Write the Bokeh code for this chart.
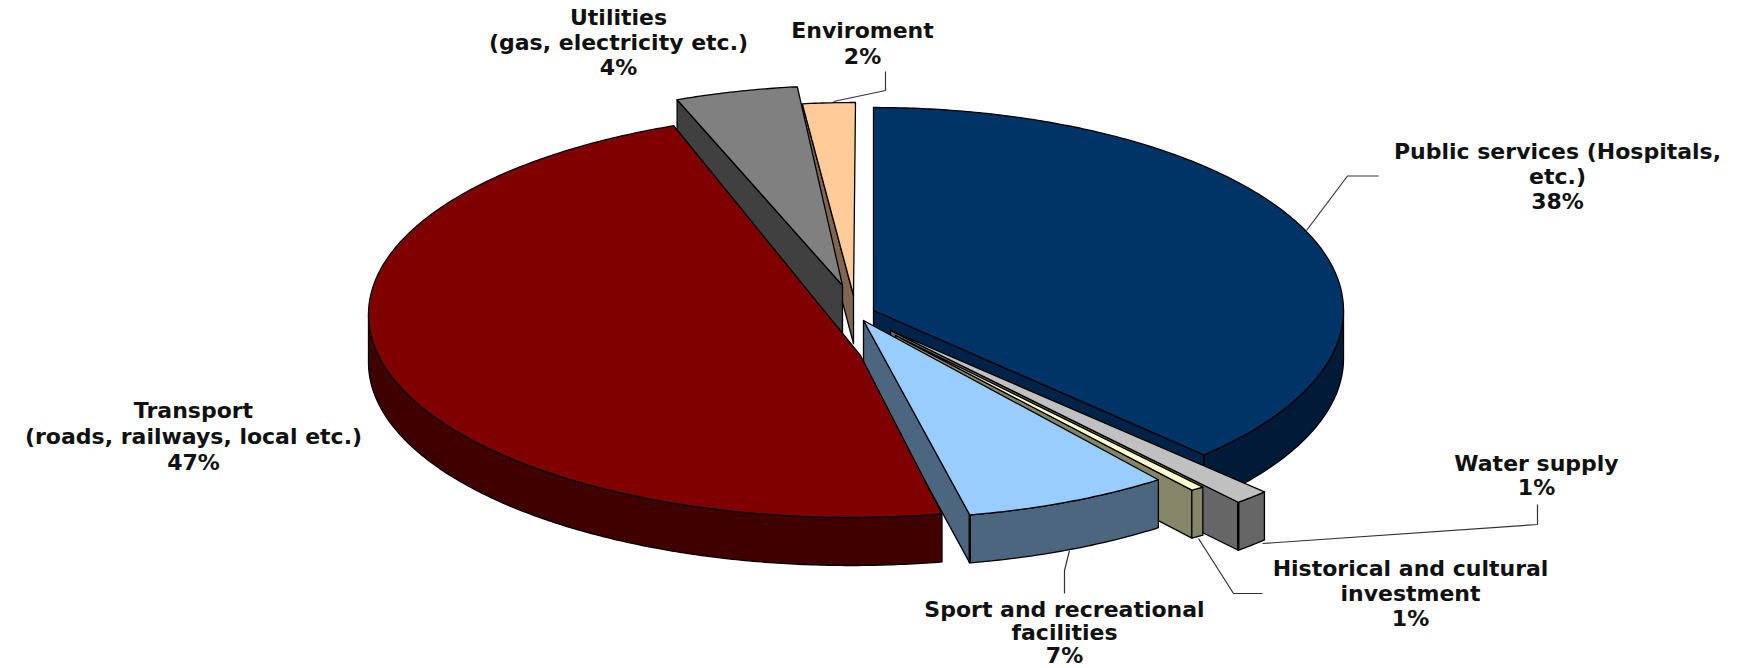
import math
from bokeh.core.properties import value
from bokeh.embed import file_html
from bokeh.models import Range1d
from bokeh.plotting import figure
from bokeh.resources import INLINE

# ---- data ----
categories = ["Public services (Hospitals,\netc.)", "Water supply", "Historical and cultural\ninvestment",
              "Sport and recreational\nfacilities", "Transport\n(roads, railways, local etc.)",
              "Utilities\n(gas, electricity etc.)", "Enviroment"]
shares = [37.6, 1.2, 1.2, 7.0, 47.0, 4.2, 1.8]

# ---- colours: top, outer wall, cut face ----
top_colors = ["#003366", "#c0c0c0", "#ffffcc", "#99ccff", "#800000", "#808080", "#ffcc99"]
wall_colors = ["#001a38", "#666666", "#858567", "#4d6680", "#400000", "#404040", "#806650"]
cut_colors = ["#00234a", "#666666", "#858567", "#4d6680", "#400000", "#404040", "#806650"]

# ---- layout, in page pixels ----
arc_centres = [(873, 310), (933, 347), (1082, 437), (881, 315), (851, 314), (850, 288), (855, 305)]
apexes = [(873, 310), (890, 330), (895, 335), (863, 320), (860, 355), (842, 285), (853, 295)]
radii = [(470, 203), (471, 203), (186, 65), (471, 203), (483, 203), (471, 203), (471, 203)]
depth = 48
draw_order = [0, 1, 2, 3, 6, 5, 4]

label_pos = [(1557, 151, 25), (1536, 463, 24), (1410, 568, 25), (1064, 609, 23),
             (193, 410, 26), (618, 17, 25), (862, 30, 26)]
leaders = [
    ([1306, 1347, 1378], [230, 175.5, 175.5]),
    ([1262, 1537, 1537], [543, 524, 504]),
    ([1198, 1233, 1262], [538, 593, 593]),
    ([1069, 1064, 1064], [550, 570, 593]),
    ([833, 885, 885], [101, 90, 71]),
]

# ---- figure ----
p = figure(width=1753, height=668, output_backend="svg", toolbar_location=None,
           x_range=Range1d(0, 1753), y_range=Range1d(668, 0), min_border=0)
p.axis.visible = False
p.grid.visible = False
p.outline_line_color = None
p.background_fill_color = "white"

total = sum(shares)
edges = [0.0]
for s in shares:
    edges.append(edges[-1] + s / total * 360.0)


def point(i, t):
    a = math.radians(t)
    return (arc_centres[i][0] + radii[i][0] * math.sin(a),
            arc_centres[i][1] - radii[i][1] * math.cos(a))


def arc(i, t0, t1):
    n = max(2, int(abs(t1 - t0)) * 2 + 2)
    return [point(i, t0 + (t1 - t0) * k / (n - 1)) for k in range(n)]


def poly(pts, color):
    p.patch([q[0] for q in pts], [q[1] for q in pts], fill_color=color, line_color="#000000",
            line_width=1.3, line_join="round")


for i in draw_order:
    t0, t1 = edges[i], edges[i + 1]
    ax, ay = apexes[i]
    # cut face: the radial edge that faces the viewer
    if i != 4:
        t_cut = t1 if t1 <= 180 else t0
        cx, cy = point(i, t_cut)
        poly([(ax, ay), (cx, cy), (cx, cy + depth), (ax, ay + depth)], cut_colors[i])
    # outer wall: the part of the rim on the near side
    w0, w1 = max(t0, 90), min(t1, 270)
    if w1 > w0:
        rim = arc(i, w0, w1)
        poly(rim + [(x, y + depth) for x, y in reversed(rim)], wall_colors[i])
    # top
    poly([(ax, ay)] + arc(i, t0, t1), top_colors[i])
    # heavy corner line where wall and cut face meet
    if i in (0, 1, 3):
        cx, cy = point(i, t1)
        p.line([cx, cx], [cy, cy + depth], line_color="#000000", line_width=2.4 if i else 1.5)

for xs, ys in leaders:
    p.line(xs, ys, line_color="#333333", line_width=1.2)

tx, ty, tt = [], [], []
for name, share, (x, y, step) in zip(categories, shares, label_pos):
    lines = name.split("\n") + [f"{round(share)}%"]
    for k, line in enumerate(lines):
        tx.append(x)
        ty.append(y + k * step)
        tt.append(line)
p.text(tx, ty, text=tt, text_font=value("DejaVu Sans"), text_font_style="bold", text_font_size="22px",
       text_align="center", text_baseline="middle", text_color="#111111")

open("out.html", "w").write(file_html(p, INLINE))
